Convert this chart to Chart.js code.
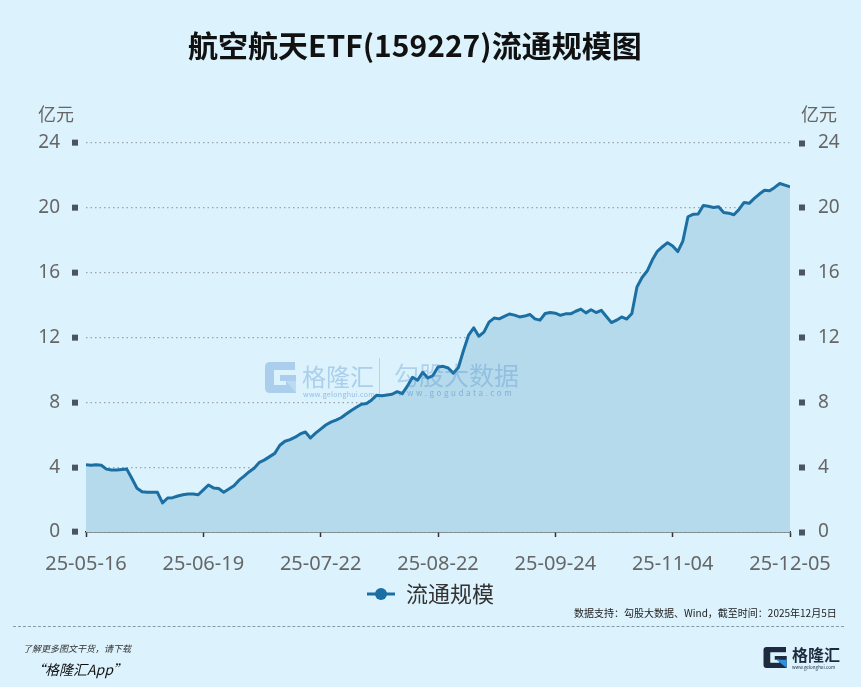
<!DOCTYPE html>
<html><head><meta charset="utf-8">
<script src="https://cdn.jsdelivr.net/npm/chart.js@4"></script>
<style>
html,body{margin:0;padding:0;background:#dcf3fd;}
#wrap{position:relative;width:861px;height:687px;overflow:hidden;background:#dcf3fd;font-family:"Noto Sans CJK SC","Noto Sans",sans-serif;}
canvas{position:absolute;left:0;top:0;}
.abs{position:absolute;white-space:nowrap;line-height:1;}
</style></head><body>
<div id="wrap">
<canvas id="c" width="861" height="687"></canvas>

<div class="abs" style="left:188px;top:29px;font-size:30px;font-weight:bold;color:#111;">航空航天ETF(159227)流通规模图</div>
<div class="abs" style="left:38px;top:104px;font-size:18px;color:#666;">亿元</div>
<div class="abs" style="left:801px;top:104px;font-size:18px;color:#666;">亿元</div>

<!-- watermarks -->
<div class="abs" style="left:265px;top:362px;opacity:0.3;">
  <svg width="32" height="32" viewBox="0 0 32 32"><path d="M0,5 Q0,0 5,0 H30 V8 H9 V23 H21 V19 H15 V13 H31 V31 H5 Q0,31 0,26 Z" fill="#3a7cc4"/><path d="M21,19 L31,31 L31,19 Z" fill="#6aa6dc"/></svg>
</div>
<div class="abs" style="left:302px;top:364px;font-size:24px;color:rgba(58,124,196,0.3);">格隆汇</div>
<div class="abs" style="left:303px;top:391px;font-size:7px;color:rgba(58,124,196,0.45);letter-spacing:0.3px;">www.gelonghui.com</div>
<div class="abs" style="left:379px;top:358px;width:1px;height:42px;background:rgba(58,124,196,0.25);"></div>
<div class="abs" style="left:394px;top:362px;font-size:25px;color:rgba(58,124,196,0.28);">勾股大数据</div>
<div class="abs" style="left:398px;top:389px;font-size:8px;color:rgba(58,124,196,0.45);letter-spacing:2.6px;">www.gogudata.com</div>

<div class="abs" style="left:574px;top:608px;font-size:10px;color:#222;">数据支持：勾股大数据、Wind，截至时间：2025年12月5日</div>
<div class="abs" style="left:13px;top:626px;width:831px;height:0;border-top:1px dashed #8a9aa3;"></div>
<div class="abs" style="left:23px;top:644px;font-size:9px;color:#333;font-style:italic;">了解更多图文干货，请下载</div>
<div class="abs" style="left:31px;top:662px;font-size:14px;color:#111;font-style:italic;">“格隆汇App”</div>

<div class="abs" style="left:763px;top:647px;">
  <svg width="25" height="21" viewBox="0 0 32 28"><path d="M0,4 Q0,0 4,0 H30 V7 H9 V21 H21 V17 H15 V12 H31 V28 H4 Q0,28 0,24 Z" fill="#1e2a40"/><path d="M17,17 L31,28 L31,17 Z" fill="#2f8fe0"/></svg>
</div>
<div class="abs" style="left:792px;top:646px;font-size:16px;color:#1e2a40;font-weight:bold;">格隆汇</div>
<div class="abs" style="left:792px;top:665px;font-size:4.5px;color:#1e2a40;">www.gelonghui.com</div>
</div>

<script>
const tickLabels = ['25-05-16','25-06-19','25-07-22','25-08-22','25-09-24','25-11-04','25-12-05'];
const seriesName = '流通规模';
const scaleValues = [
  4.15,4.12,4.15,4.12,3.88,3.82,3.82,3.85,3.88,3.30,
  2.70,2.48,2.45,2.45,2.45,1.80,2.10,2.12,2.22,2.30,
  2.35,2.35,2.30,2.60,2.90,2.72,2.68,2.45,2.65,2.85,
  3.20,3.45,3.72,3.95,4.30,4.45,4.65,4.85,5.35,5.60,
  5.70,5.85,6.05,6.17,5.80,6.10,6.35,6.60,6.78,6.90,
  7.05,7.28,7.50,7.70,7.88,7.93,8.15,8.44,8.40,8.45,
  8.50,8.66,8.54,9.00,9.55,9.36,9.85,9.50,9.65,10.18,
  10.22,10.12,9.80,10.15,11.20,12.15,12.60,12.08,12.33,12.95,
  13.20,13.15,13.30,13.45,13.38,13.27,13.32,13.42,13.15,13.07,
  13.48,13.54,13.50,13.37,13.46,13.46,13.62,13.75,13.52,13.71,
  13.54,13.68,13.30,12.92,13.07,13.27,13.14,13.48,15.12,15.70,
  16.10,16.78,17.32,17.60,17.85,17.65,17.30,17.95,19.45,19.60,
  19.62,20.15,20.10,20.02,20.06,19.71,19.67,19.57,19.90,20.33,
  20.28,20.58,20.85,21.08,21.05,21.26,21.50,21.40,21.30
];
const yTicks = [0,4,8,12,16,20,24];

const tickStep = (scaleValues.length - 1) / (tickLabels.length - 1);
const lineColor = '#1b6fa2';

// legend symbol: line with a dot
const sym = document.createElement('canvas');
sym.width = 28; sym.height = 14;
(function(){
  const g = sym.getContext('2d');
  g.strokeStyle = lineColor; g.lineWidth = 3;
  g.beginPath(); g.moveTo(0,7); g.lineTo(28,7); g.stroke();
  g.fillStyle = lineColor; g.beginPath(); g.arc(14,7,6,0,Math.PI*2); g.fill();
})();

const tickFontY = {family:'"Noto Sans","Noto Sans CJK SC",sans-serif', size:19};
const tickFontX = {family:'"Noto Sans","Noto Sans CJK SC",sans-serif', size:20};

new Chart(document.getElementById('c'), {
  type: 'line',
  data: {
    labels: scaleValues.map((_, i) => i),
    datasets: [{
      label: seriesName,
      data: scaleValues,
      borderColor: lineColor,
      backgroundColor: '#b5daeb',
      fill: 'origin',
      borderWidth: 3,
      pointRadius: 0,
      tension: 0,
      borderJoinStyle: 'round',
      yAxisID: 'y'
    }]
  },
  options: {
    responsive: false,
    animation: false,
    devicePixelRatio: 1,
    layout: { padding: { top: 143, bottom: 72, left: 0, right: 0 } },
    plugins: {
      title: { display: false },
      tooltip: { enabled: false },
      legend: {
        display: true,
        position: 'bottom',
        labels: {
          usePointStyle: true,
          pointStyle: sym,
          pointStyleWidth: 28,
          color: '#333',
          font: { family: '"Noto Sans CJK SC",sans-serif', size: 22 },
          padding: 10
        }
      }
    },
    scales: {
      x: {
        type: 'linear',
        min: 0,
        max: scaleValues.length - 1,
        afterFit: s => { s.height = 41; },
        ticks: {
          stepSize: tickStep,
          autoSkip: false,
          maxRotation: 0,
          color: '#666',
          font: tickFontX,
          padding: 15,
          callback: v => tickLabels[Math.round(v / tickStep)]
        },
        grid: { display: true, drawOnChartArea: false, drawTicks: true, tickLength: 5, tickColor: '#333', tickWidth: 1.5 },
        border: { display: true, color: '#333', width: 1.5 }
      },
      y: {
        position: 'left',
        min: 0, max: 24,
        afterFit: s => { s.width = 86; },
        afterBuildTicks: s => { s.ticks = yTicks.map(v => ({value: v})); },
        ticks: { color: '#666', font: tickFontY, padding: 12 },
        grid: { display: true, color: '#9aa4aa', lineWidth: 1.3, drawTicks: true, tickLength: 14, tickWidth: 6, tickColor: '#4b5560', tickBorderDash: [6, 30] },
        border: { display: false, dash: [1.5, 3] }
      },
      y2: {
        position: 'right',
        min: 0, max: 24,
        afterFit: s => { s.width = 71; },
        afterBuildTicks: s => { s.ticks = yTicks.map(v => ({value: v})); },
        ticks: { color: '#666', font: tickFontY, padding: 13 },
        grid: { display: true, drawOnChartArea: false, drawTicks: true, tickLength: 15, tickWidth: 6, tickColor: '#4b5560', tickBorderDash: [0, 9, 6, 30] },
        border: { display: false }
      }
    }
  }
});
</script>
</body></html>
